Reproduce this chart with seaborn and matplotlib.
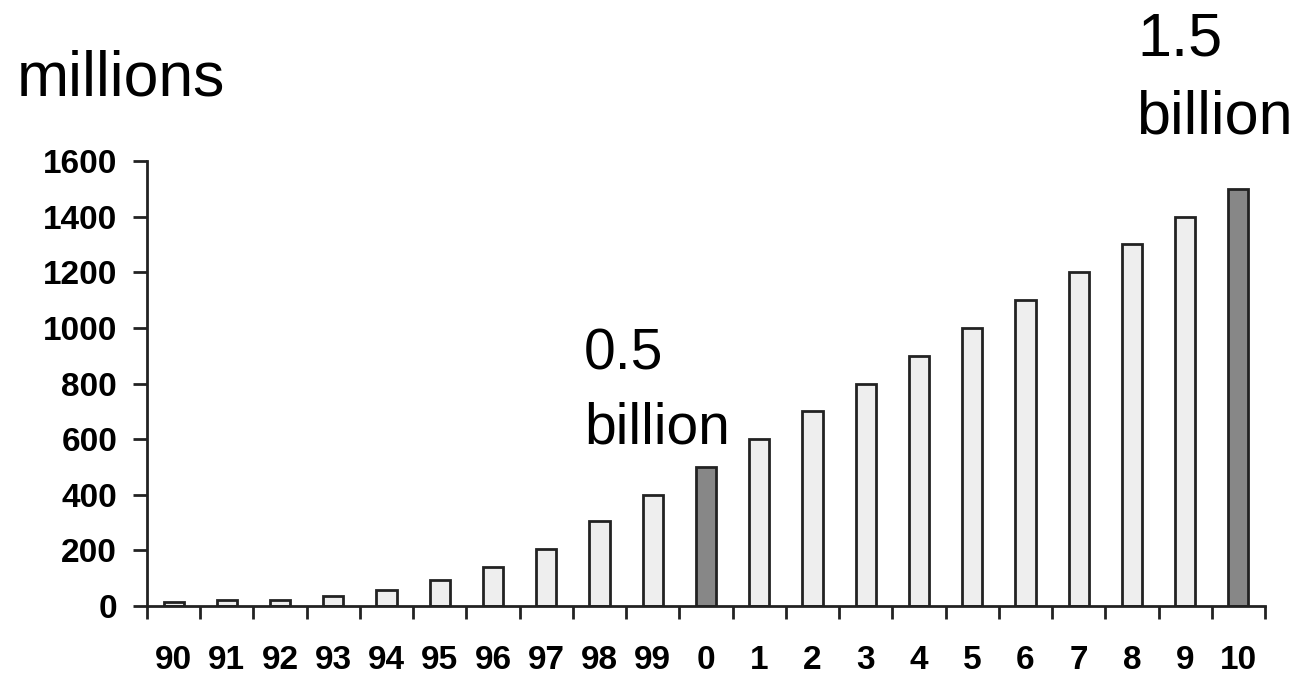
import matplotlib
matplotlib.use("Agg")
import matplotlib.pyplot as plt
import seaborn as sns
import pandas as pd
import numpy as np

years = ["90", "91", "92", "93", "94", "95", "96", "97", "98", "99", "0",
         "1", "2", "3", "4", "5", "6", "7", "8", "9", "10"]
users = [13, 20, 20, 37, 57, 93, 140, 205, 305, 400, 500,
         600, 700, 800, 900, 1000, 1100, 1200, 1300, 1400, 1500]
highlight = ["0", "10"]
yticks = [0, 200, 400, 600, 800, 1000, 1200, 1400, 1600]

sns.set_theme(style="white")
plt.rcParams['font.family'] = ['Liberation Sans', 'DejaVu Sans']

light = "#eeeeee"
dark = "#878787"
palette = {y: (dark if y in highlight else light) for y in years}

df = pd.DataFrame({"year": years, "users": users})

fig = plt.figure(figsize=(12.95, 6.77), dpi=100)
ax = fig.add_axes([147/1295, 1 - 606/677, (1265 - 147)/1295, (606 - 161)/677])

sns.barplot(data=df, x="year", y="users", hue="year", palette=palette,
            order=years, hue_order=years, width=0.38, legend=False,
            edgecolor="#222222", linewidth=2, ax=ax, saturation=1)

ax.set_xlim(-0.5, len(years) - 0.5)
ax.set_ylim(0, 1600)
ax.set_yticks(yticks)
ax.set_yticklabels([str(v) for v in yticks], fontsize=24, fontweight="bold", color="black")
ax.set_xticks(np.arange(len(years)))
ax.set_xticklabels(years, fontsize=24, fontweight="bold", color="black")
ax.set_xticks(np.arange(len(years) + 1) - 0.5, minor=True)
ax.tick_params(axis="x", which="major", length=0, pad=28)
ax.tick_params(axis="x", which="minor", length=9, width=2, direction="out", color="#222222", bottom=True)
ax.tick_params(axis="y", which="major", length=10, width=2, direction="out", pad=11.5, color="#222222", left=True)
ax.set_xlabel("")
ax.set_ylabel("")

for s in ["top", "right"]:
    ax.spines[s].set_visible(False)
for s in ["left", "bottom"]:
    ax.spines[s].set_color("#222222")
    ax.spines[s].set_linewidth(2)

fig.text(17/1295, 1 - 95/677, "millions", fontsize=45, color="black", ha="left", va="baseline")
fig.text(584/1295, 1 - 369/677, "0.5", fontsize=41, color="black", ha="left", va="baseline")
fig.text(584/1295, 1 - 443/677, "billion", fontsize=41, color="black", ha="left", va="baseline")
fig.text(1137/1295, 1 - 55/677, "1.5", fontsize=44, color="black", ha="left", va="baseline")
fig.text(1136/1295, 1 - 133/677, "billion", fontsize=44, color="black", ha="left", va="baseline")

fig.savefig("out.png", dpi=100, facecolor="white")
